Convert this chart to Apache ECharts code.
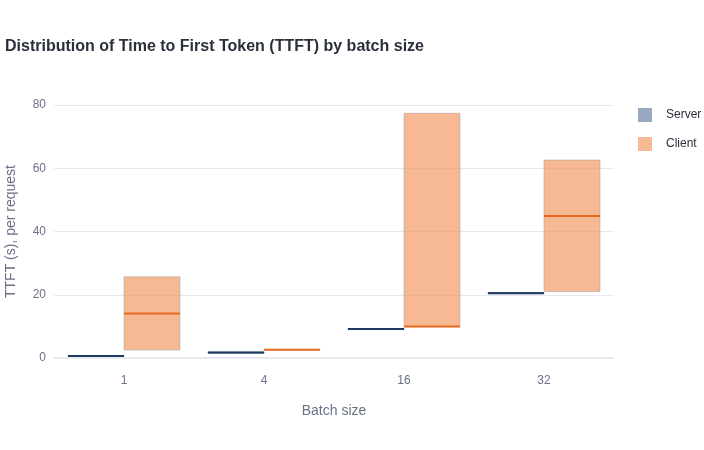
<!DOCTYPE html>
<html>
<head>
<meta charset="utf-8">
<script src="https://cdn.jsdelivr.net/npm/echarts@6/dist/echarts.min.js"></script>
<style>html,body{margin:0;padding:0;background:#fff}#c{width:704px;height:450px}</style>
</head>
<body>
<div id="c"></div>
<script>
const categories = ['1', '4', '16', '32'];
// [q1, median, q3] per batch size
const serverQ1 = [0.5, 1.6, 9.1, 20.4];
const serverMedian = [0.6, 1.7, 9.2, 20.5];
const serverQ3 = [0.7, 1.8, 9.3, 20.6];
const clientQ1 = [2.5, 2.5, 9.9, 21.0];
const clientMedian = [14.1, 2.6, 10.0, 44.9];
const clientQ3 = [25.7, 2.7, 77.4, 62.6];
const yTicks = [0, 20, 40, 60, 80];

const FONT = '"Liberation Sans", Arial, Helvetica, sans-serif';

function makeData(q1, med, q3) {
  return categories.map((c, i) => [i, q1[i], med[i], q3[i]]);
}

function boxRenderer(side, fill, border, medColor, medWidth) {
  return function (params, api) {
    const idx = api.value(0);
    const lo = api.coord([idx, api.value(1)]);
    const md = api.coord([idx, api.value(2)]);
    const hi = api.coord([idx, api.value(3)]);
    const band = api.size([1, 0])[0];
    const w = band * 0.4;
    const x0 = side < 0 ? lo[0] - w : lo[0];
    const children = [];
    children.push({
      type: 'rect',
      shape: { x: x0, y: hi[1], width: w, height: Math.max(lo[1] - hi[1], 0) },
      style: { fill: fill, stroke: border, lineWidth: 1 }
    });
    children.push({
      type: 'line',
      shape: { x1: x0, y1: md[1], x2: x0 + w, y2: md[1] },
      style: { stroke: medColor, lineWidth: medWidth }
    });
    return { type: 'group', children: children };
  };
}

const chart = echarts.init(document.getElementById('c'));
chart.setOption({
  animation: false,
  backgroundColor: '#ffffff',
  title: {
    text: 'Distribution of Time to First Token (TTFT) by batch size',
    left: 0, top: 34,
    textStyle: { fontFamily: FONT, fontSize: 16, fontWeight: 'bold', color: '#2a2f3c' }
  },
  legend: {
    orient: 'vertical', left: 633, top: 103, itemWidth: 14, itemHeight: 14, itemGap: 15,
    textStyle: { fontFamily: FONT, fontSize: 12, color: '#2a2f3c', padding: [0, 0, 0, 9] },
    data: [
      { name: 'Server', icon: 'rect', itemStyle: { color: '#98a8c0' } },
      { name: 'Client', icon: 'rect', itemStyle: { color: '#f5b993' } }
    ]
  },
  grid: { left: 54, right: 90, top: 105, bottom: 92, containLabel: false, outerBoundsMode: 'none' },
  xAxis: {
    type: 'category', data: categories,
    name: 'Batch size', nameLocation: 'middle', nameGap: 46,
    nameTextStyle: { fontFamily: FONT, fontSize: 14, color: '#6b7185' },
    axisLine: { show: false }, axisTick: { show: false },
    axisLabel: { fontFamily: FONT, fontSize: 12, color: '#6b7185', margin: 17 },
    splitLine: { show: false }
  },
  yAxis: {
    type: 'value', min: 0, max: 80, interval: 20,
    name: 'TTFT (s), per request', nameLocation: 'middle', nameGap: 36,
    nameTextStyle: { fontFamily: FONT, fontSize: 14, color: '#6b7185' },
    axisLine: { show: false }, axisTick: { show: false },
    axisLabel: { fontFamily: FONT, fontSize: 12, color: '#6b7185', margin: 8,
      customValues: yTicks },
    splitLine: { show: true, lineStyle: { color: '#e8eaef', width: 1 } }
  },
  series: [
    {
      name: 'Server', type: 'custom', data: makeData(serverQ1, serverMedian, serverQ3),
      encode: { x: 0, y: [1, 2, 3] },
      itemStyle: { color: '#98a8c0' },
      renderItem: boxRenderer(-1, 'rgba(31,58,96,0.45)', '#2c4a72', '#1f3a60', 2)
    },
    {
      name: 'Client', type: 'custom', data: makeData(clientQ1, clientMedian, clientQ3),
      encode: { x: 0, y: [1, 2, 3] },
      itemStyle: { color: '#f5b993' },
      renderItem: boxRenderer(1, 'rgba(240,135,70,0.58)', 'rgba(150,150,150,0.45)', '#e8691e', 2)
    }
  ],
  graphic: [{
    type: 'line', silent: true, z: 0,
    shape: { x1: 54, y1: 358, x2: 614, y2: 358 },
    style: { stroke: '#e5e8ee', lineWidth: 2 }
  }]
});
</script>
</body>
</html>
